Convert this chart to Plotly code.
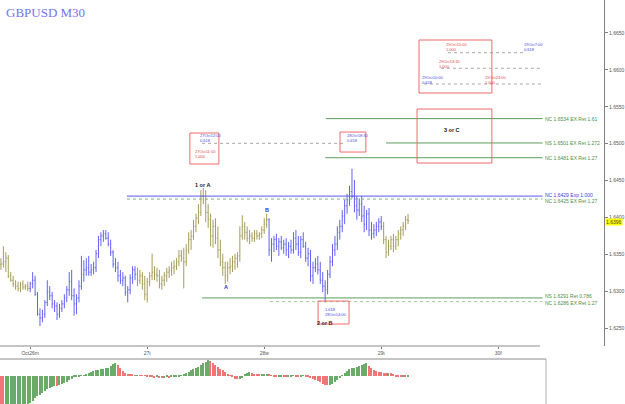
import plotly.graph_objects as go

# ---------------- data ----------------
title_text = "GBPUSD M30"

bar_open = [
    1.6336, 1.6337, 1.6340, 1.6345, 1.6321, 1.6315, 1.6310, 1.6307, 1.6304, 1.6310, 1.6306, 1.6307,
    1.6304, 1.6310, 1.6315, 1.6296, 1.6269, 1.6264, 1.6269, 1.6285, 1.6299, 1.6294, 1.6283, 1.6280,
    1.6269, 1.6277, 1.6283, 1.6291, 1.6302, 1.6313, 1.6294, 1.6283, 1.6291, 1.6307, 1.6323, 1.6329,
    1.6332, 1.6326, 1.6329, 1.6332, 1.6351, 1.6370, 1.6375, 1.6378, 1.6372, 1.6364, 1.6353, 1.6337,
    1.6332, 1.6321, 1.6315, 1.6318, 1.6299, 1.6302, 1.6318, 1.6329, 1.6323, 1.6315, 1.6321, 1.6310,
    1.6296, 1.6313, 1.6321, 1.6326, 1.6323, 1.6321, 1.6310, 1.6315, 1.6321, 1.6326, 1.6329, 1.6332,
    1.6334, 1.6340, 1.6348, 1.6345, 1.6340, 1.6356, 1.6370, 1.6375, 1.6388, 1.6399, 1.6407, 1.6429,
    1.6424, 1.6407, 1.6397, 1.6375, 1.6388, 1.6372, 1.6356, 1.6340, 1.6332, 1.6321, 1.6332, 1.6334,
    1.6340, 1.6345, 1.6348, 1.6375, 1.6388, 1.6380, 1.6372, 1.6375, 1.6372, 1.6378, 1.6375, 1.6378,
    1.6383, 1.6391, 1.6397, 1.6356, 1.6364, 1.6370, 1.6361, 1.6367, 1.6359, 1.6364, 1.6356, 1.6361,
    1.6356, 1.6372, 1.6364, 1.6353, 1.6370, 1.6361, 1.6345, 1.6351, 1.6321, 1.6332, 1.6337, 1.6329,
    1.6315, 1.6307, 1.6302, 1.6323, 1.6340, 1.6356, 1.6364, 1.6380, 1.6388, 1.6402, 1.6416, 1.6424,
    1.6435, 1.6429, 1.6416, 1.6410, 1.6418, 1.6402, 1.6391, 1.6405, 1.6383, 1.6378, 1.6383, 1.6388,
    1.6394, 1.6388, 1.6370, 1.6353, 1.6361, 1.6370, 1.6361, 1.6370, 1.6378, 1.6383, 1.6388, 1.6397,
]
bar_high = [
    1.6345, 1.6361, 1.6353, 1.6349, 1.6326, 1.6321, 1.6315, 1.6313, 1.6313, 1.6315, 1.6310, 1.6313,
    1.6313, 1.6326, 1.6321, 1.6299, 1.6277, 1.6275, 1.6288, 1.6315, 1.6307, 1.6299, 1.6288, 1.6285,
    1.6283, 1.6288, 1.6296, 1.6307, 1.6326, 1.6329, 1.6304, 1.6296, 1.6315, 1.6348, 1.6342, 1.6345,
    1.6348, 1.6337, 1.6340, 1.6356, 1.6375, 1.6380, 1.6383, 1.6383, 1.6380, 1.6370, 1.6356, 1.6345,
    1.6340, 1.6329, 1.6326, 1.6321, 1.6307, 1.6323, 1.6334, 1.6334, 1.6332, 1.6329, 1.6326, 1.6321,
    1.6318, 1.6326, 1.6351, 1.6334, 1.6332, 1.6329, 1.6321, 1.6326, 1.6332, 1.6334, 1.6340, 1.6342,
    1.6345, 1.6356, 1.6356, 1.6359, 1.6364, 1.6380, 1.6383, 1.6397, 1.6405, 1.6418, 1.6437, 1.6440,
    1.6437, 1.6418, 1.6405, 1.6397, 1.6399, 1.6388, 1.6370, 1.6351, 1.6340, 1.6340, 1.6345, 1.6348,
    1.6351, 1.6353, 1.6388, 1.6403, 1.6394, 1.6388, 1.6383, 1.6380, 1.6383, 1.6383, 1.6380, 1.6388,
    1.6399, 1.6405, 1.6399, 1.6372, 1.6375, 1.6378, 1.6372, 1.6375, 1.6370, 1.6372, 1.6367, 1.6370,
    1.6380, 1.6383, 1.6375, 1.6375, 1.6380, 1.6367, 1.6359, 1.6356, 1.6340, 1.6345, 1.6348, 1.6340,
    1.6326, 1.6315, 1.6329, 1.6348, 1.6364, 1.6375, 1.6388, 1.6397, 1.6410, 1.6424, 1.6432, 1.6443,
    1.6466, 1.6451, 1.6429, 1.6426, 1.6429, 1.6416, 1.6410, 1.6413, 1.6394, 1.6391, 1.6394, 1.6399,
    1.6402, 1.6394, 1.6375, 1.6370, 1.6375, 1.6378, 1.6375, 1.6383, 1.6388, 1.6394, 1.6402, 1.6405,
]
bar_low = [
    1.6329, 1.6332, 1.6326, 1.6318, 1.6313, 1.6306, 1.6302, 1.6300, 1.6299, 1.6302, 1.6302, 1.6300,
    1.6299, 1.6304, 1.6294, 1.6267, 1.6253, 1.6258, 1.6264, 1.6280, 1.6288, 1.6277, 1.6272, 1.6261,
    1.6264, 1.6272, 1.6277, 1.6285, 1.6294, 1.6288, 1.6267, 1.6269, 1.6285, 1.6302, 1.6313, 1.6321,
    1.6321, 1.6321, 1.6323, 1.6326, 1.6345, 1.6361, 1.6367, 1.6370, 1.6361, 1.6348, 1.6332, 1.6326,
    1.6313, 1.6310, 1.6307, 1.6294, 1.6285, 1.6296, 1.6310, 1.6315, 1.6307, 1.6310, 1.6302, 1.6288,
    1.6285, 1.6307, 1.6315, 1.6315, 1.6313, 1.6304, 1.6302, 1.6307, 1.6313, 1.6318, 1.6321, 1.6323,
    1.6329, 1.6334, 1.6340, 1.6304, 1.6334, 1.6351, 1.6356, 1.6370, 1.6380, 1.6391, 1.6402, 1.6418,
    1.6394, 1.6386, 1.6361, 1.6359, 1.6364, 1.6345, 1.6334, 1.6321, 1.6310, 1.6313, 1.6323, 1.6326,
    1.6329, 1.6332, 1.6340, 1.6370, 1.6370, 1.6367, 1.6364, 1.6367, 1.6367, 1.6370, 1.6370, 1.6372,
    1.6378, 1.6386, 1.6348, 1.6340, 1.6353, 1.6356, 1.6348, 1.6356, 1.6351, 1.6348, 1.6345, 1.6351,
    1.6351, 1.6356, 1.6348, 1.6345, 1.6359, 1.6340, 1.6334, 1.6313, 1.6310, 1.6326, 1.6323, 1.6310,
    1.6299, 1.6285, 1.6296, 1.6318, 1.6334, 1.6348, 1.6356, 1.6370, 1.6380, 1.6391, 1.6405, 1.6416,
    1.6426, 1.6407, 1.6397, 1.6402, 1.6394, 1.6380, 1.6383, 1.6375, 1.6370, 1.6372, 1.6375, 1.6380,
    1.6383, 1.6364, 1.6345, 1.6348, 1.6356, 1.6353, 1.6356, 1.6361, 1.6370, 1.6375, 1.6383, 1.6391,
]
bar_close = [
    1.6337, 1.6340, 1.6345, 1.6321, 1.6315, 1.6310, 1.6307, 1.6304, 1.6310, 1.6306, 1.6307, 1.6304,
    1.6310, 1.6315, 1.6296, 1.6269, 1.6264, 1.6269, 1.6285, 1.6299, 1.6294, 1.6283, 1.6280, 1.6269,
    1.6277, 1.6283, 1.6291, 1.6302, 1.6313, 1.6294, 1.6283, 1.6291, 1.6307, 1.6323, 1.6329, 1.6332,
    1.6326, 1.6329, 1.6332, 1.6351, 1.6370, 1.6375, 1.6378, 1.6372, 1.6364, 1.6353, 1.6337, 1.6332,
    1.6321, 1.6315, 1.6318, 1.6299, 1.6302, 1.6318, 1.6329, 1.6323, 1.6315, 1.6321, 1.6310, 1.6296,
    1.6313, 1.6321, 1.6326, 1.6323, 1.6321, 1.6310, 1.6315, 1.6321, 1.6326, 1.6329, 1.6332, 1.6334,
    1.6340, 1.6348, 1.6345, 1.6340, 1.6356, 1.6370, 1.6375, 1.6388, 1.6399, 1.6407, 1.6429, 1.6424,
    1.6407, 1.6397, 1.6375, 1.6388, 1.6372, 1.6356, 1.6340, 1.6332, 1.6321, 1.6332, 1.6334, 1.6340,
    1.6345, 1.6348, 1.6375, 1.6388, 1.6380, 1.6372, 1.6375, 1.6372, 1.6378, 1.6375, 1.6378, 1.6383,
    1.6391, 1.6397, 1.6356, 1.6364, 1.6370, 1.6361, 1.6367, 1.6359, 1.6364, 1.6356, 1.6361, 1.6356,
    1.6372, 1.6364, 1.6353, 1.6370, 1.6361, 1.6345, 1.6351, 1.6321, 1.6332, 1.6337, 1.6329, 1.6315,
    1.6307, 1.6302, 1.6323, 1.6340, 1.6356, 1.6364, 1.6380, 1.6388, 1.6402, 1.6416, 1.6424, 1.6435,
    1.6429, 1.6416, 1.6410, 1.6418, 1.6402, 1.6391, 1.6405, 1.6383, 1.6378, 1.6383, 1.6388, 1.6394,
    1.6388, 1.6370, 1.6353, 1.6361, 1.6370, 1.6361, 1.6370, 1.6378, 1.6383, 1.6388, 1.6397, 1.6396,
]
osma_hist = [
    -40, -44, -43, -42, -41.5, -41, -40, -39, -37.5, -34, -32, -29.5,
    -27, -25, -22, -20.5, -19, -17, -15, -13.5, -12.5, -11, -10, -10.5,
    -9, -8, -7.5, -6.5, -4.5, -3, -1.5, -0.8, -0.5, 0.3, 0.5, 1.5,
    2.5, 4, 4.5, 5.5, 6, 6.5, 7, 7.5, 8, 10, 11.5, 12.5,
    11, 8, 5, 3, 1.5, 1, 0.8, 0.5, 0.6, 0.4, 0.3, 0.2,
    -0.5, -1, -1.5, -2, -1.8, -2.2, -2.5, -2, -1.6, -2, -1.5, -1.2,
    -1, -0.5, 0.5, 1.2, 3, 4, 6, 7, 8, 9, 11, 12.5,
    14, 15.5, 15, 12.5, 11, 9, 7, 5.5, 3.5, 2, 0.5, -1.5,
    -3, -3.5, -3, -2, 1, 2.5, 3.5, 3, 2, 1, 0.8, 1.2,
    1.5, 1.8, 1, 0.5, -0.5, -1, -0.8, -0.5, -1, -1.2, -0.8, -0.6,
    -0.3, -0.5, -0.8, -0.5, -0.3, -0.6, -1, -2, -3, -4, -5, -6.5,
    -8, -9, -9.5, -9, -8, -6, -4, -2, 0.5, 3, 5, 6.5,
    7.5, 8, 8.5, 10, 11, 12, 12.5, 10, 7.5, 6, 4.5, 4,
    3.5, 2.8, 2.5, 3, 2.5, 1.5, -0.5, -1.5, -1.6, -1.3, -1.4, -1.2,
]
bar_index = list(range(len(bar_close)))

day_tick_bars = [12, 60, 108, 156, 204]
day_tick_labels = ["Oct26m", "27t", "28w", "29t", "30f"]
price_ticks = [1.6250, 1.6300, 1.6350, 1.6400, 1.6450, 1.6500, 1.6550, 1.6600, 1.6650]
price_tick_labels = ["1.6250", "1.6300", "1.6350", "1.6400", "1.6450", "1.6500", "1.6550", "1.6600", "1.6650"]
last_price = 1.6396

fib_prices = [1.6534, 1.6501, 1.6481, 1.6429, 1.6425, 1.6291, 1.6286]
fib_labels = ["NC 1.6534 EX Ret 1.61", "NS 1.6501 EX Ret 1.272", "NC 1.6481 EX Ret 1.27",
              "NC 1.6429 Exp 1.000", "NC 1.6425 EX Ret 1.27", "NS 1.6291 Ret 0.786",
              "NC 1.6286 EX Ret 1.27"]

# ---------------- style ----------------
OLIVE = "#a59d5a"
BLUE = "#6262f2"
GREEN = "#5a9e5a"
RED_BOX = "#ee6a6a"
wave_segments = [(0, 12, OLIVE), (12, 56, BLUE), (56, 110, OLIVE), (110, 157, BLUE), (157, 168, OLIVE)]
fib_style = [  # start bar, colour, dash
    (133.3, GREEN, "solid"), (158.0, GREEN, "solid"), (133.0, GREEN, "solid"),
    (51.7, "#5a5af0", "solid"), (51.7, "#7fb07f", "dot"), (82.5, GREEN, "solid"),
    (110.4, "#9cc49c", "dot"),
]
fib_end = 222.2
fib_label_y_shift = [0, 0, 0, 1.5, -1.5, 1.5, -1.5]

fig = go.Figure()

for s, e, c in wave_segments:
    fig.add_trace(go.Ohlc(
        x=bar_index[s:e], open=bar_open[s:e], high=bar_high[s:e], low=bar_low[s:e],
        close=bar_close[s:e],
        increasing=dict(line=dict(color=c, width=1)),
        decreasing=dict(line=dict(color=c, width=1)),
        tickwidth=0.35, showlegend=False, hoverinfo="skip",
        xaxis="x", yaxis="y",
    ))

hist_colors = []
for i, v in enumerate(osma_hist):
    if i == 0 or v < osma_hist[i - 1]:
        hist_colors.append("#f07676")
    else:
        hist_colors.append("#6aab6a")
fig.add_trace(go.Bar(x=bar_index, y=osma_hist, marker=dict(color=hist_colors, line=dict(width=0)),
                     width=0.5, showlegend=False, hoverinfo="skip", xaxis="x2", yaxis="y2"))

shapes = []
annotations = []

# fib level lines + labels
for p, lab, (x0, col, dash), dy in zip(fib_prices, fib_labels, fib_style, fib_label_y_shift):
    shapes.append(dict(type="line", xref="x", yref="y", x0=x0, x1=fib_end, y0=p, y1=p,
                       line=dict(color=col, width=1, dash=dash)))
    tcol = "#4040e0" if "Exp" in lab else "#4a904a"
    annotations.append(dict(xref="x", yref="y", x=fib_end + 0.3, y=p, text=lab, showarrow=False,
                            xanchor="left", yanchor="middle", yshift=dy,
                            font=dict(size=5, color=tcol, family="Arial")))

# gray dotted connectors
for y0, xa, xb in [(1.66233, 183.4, 215.0), (1.66022, 180.5, 221.6), (1.65809, 173.5, 221.6),
                   (1.65005, 82.5, 141.5)]:
    shapes.append(dict(type="line", xref="x", yref="y", x0=xa, x1=xb, y0=y0, y1=y0,
                       line=dict(color="#a8a8a8", width=1, dash="dot")))

# red boxes
for xa, xb, ya, yb in [(77.5, 89.4, 1.64725, 1.65145), (139.1, 149.7, 1.64887, 1.65158),
                       (171.5, 201.4, 1.65687, 1.66405), (170.7, 201.4, 1.64738, 1.65470),
                       (130.1, 142.8, 1.62557, 1.62868)]:
    shapes.append(dict(type="rect", xref="x", yref="y", x0=xa, x1=xb, y0=ya, y1=yb,
                       line=dict(color=RED_BOX, width=1), fillcolor="rgba(0,0,0,0)"))

# tiny fib time labels (time label above, ratio below)
tiny = [
    ("27Oct12:00", "0.618", "#4848e8", 80.8, 1.65077),
    ("27Oct11:00", "1.000", "#e04848", 78.8, 1.64860),
    ("28Oct18:30", "0.618", "#4848e8", 141.1, 1.65077),
    ("29Oct15:00", "1.000", "#e04848", 181.8, 1.66310),
    ("29Oct7:00", "0.618", "#4848e8", 213.8, 1.66310),
    ("29Oct13:30", "1.000", "#e04848", 178.9, 1.66080),
    ("29Oct10:00", "0.618", "#4848e8", 171.9, 1.65863),
    ("29Oct23:00", "1.000", "#e04848", 197.8, 1.65863),
]
for t1, t2, c, xx, yy in tiny:
    annotations.append(dict(xref="x", yref="y", x=xx, y=yy, text=t1 + "<br>" + t2,
                            showarrow=False, xanchor="left", yanchor="middle", align="left",
                            font=dict(size=4, color=c, family="Arial")))
annotations.append(dict(xref="x", yref="y", x=132.1, y=1.62720, text="1.618<br>28Oct14:00",
                        showarrow=False, xanchor="left", yanchor="middle", align="left",
                        font=dict(size=4, color="#4848e8", family="Arial")))

# wave labels
for t, c, xx, yy in [("1 or A", "#202020", 82.5, 1.64440), ("A", "#3030e0", 92.3, 1.63058),
                     ("B", "#3030e0", 109.1, 1.64102), ("3 or C", "#202020", 185.0, 1.65186),
                     ("2 or B", "#601010", 133.0, 1.62570)]:
    annotations.append(dict(xref="x", yref="y", x=xx, y=yy, text="<b>" + t + "</b>",
                            showarrow=False, xanchor="center", yanchor="middle",
                            font=dict(size=5.5, color=c, family="Arial")))

# title
annotations.append(dict(xref="paper", yref="paper", x=4 / 604, y=1 - 12 / 404, text=title_text,
                        showarrow=False, xanchor="left", yanchor="middle",
                        font=dict(size=13, color="#7474ee", family="Liberation Serif")))

# current price tag
annotations.append(dict(xref="paper", yref="y", x=1.0, y=last_price, text=f"{last_price:.4f}",
                        showarrow=False, xanchor="left", yanchor="middle", xshift=1, yshift=-2,
                        bgcolor="#ffff00", borderpad=0,
                        font=dict(size=5, color="#444444", family="Arial")))

# frame lines
shapes.append(dict(type="line", xref="paper", yref="paper", x0=0, x1=540 / 604,
                   y0=1 - 346 / 404, y1=1 - 346 / 404, line=dict(color="#8a8a8a", width=1)))
shapes.append(dict(type="line", xref="paper", yref="paper", x0=0, x1=546 / 604,
                   y0=45 / 404, y1=45 / 404, line=dict(color="#8a8a8a", width=1)))
shapes.append(dict(type="line", xref="paper", yref="paper", x0=546 / 604, x1=546 / 604,
                   y0=0, y1=45 / 404, line=dict(color="#b0b0b0", width=1)))

fig.update_layout(
    width=625, height=404,
    margin=dict(l=0, r=21, t=0, b=0),
    paper_bgcolor="white", plot_bgcolor="white",
    showlegend=False,
    xaxis=dict(domain=[0, 1], range=[-0.4, 247.4], anchor="y", showgrid=False, zeroline=False,
               showline=False, tickvals=day_tick_bars, ticktext=day_tick_labels,
               ticks="outside", ticklen=2, tickcolor="#777777",
               tickfont=dict(size=5, color="#555555", family="Arial"),
               rangeslider=dict(visible=False), fixedrange=True),
    yaxis=dict(domain=[58 / 404, 1], range=[1.62259, 1.66947], side="right", anchor="x",
               showgrid=False, zeroline=False, showline=True, linecolor="#808080", linewidth=1,
               tickvals=price_ticks, ticktext=price_tick_labels, ticks="outside", ticklen=3,
               tickcolor="#808080", tickfont=dict(size=5, color="#555555", family="Arial")),
    xaxis2=dict(domain=[0, 546 / 604], range=[-0.4, 223.6], anchor="y2", visible=False),
    yaxis2=dict(domain=[0, 45 / 404], range=[-28.4, 16.6], anchor="x2", visible=False),
    shapes=shapes,
    annotations=annotations,
    bargap=0,
)

fig.write_html("out.html")
